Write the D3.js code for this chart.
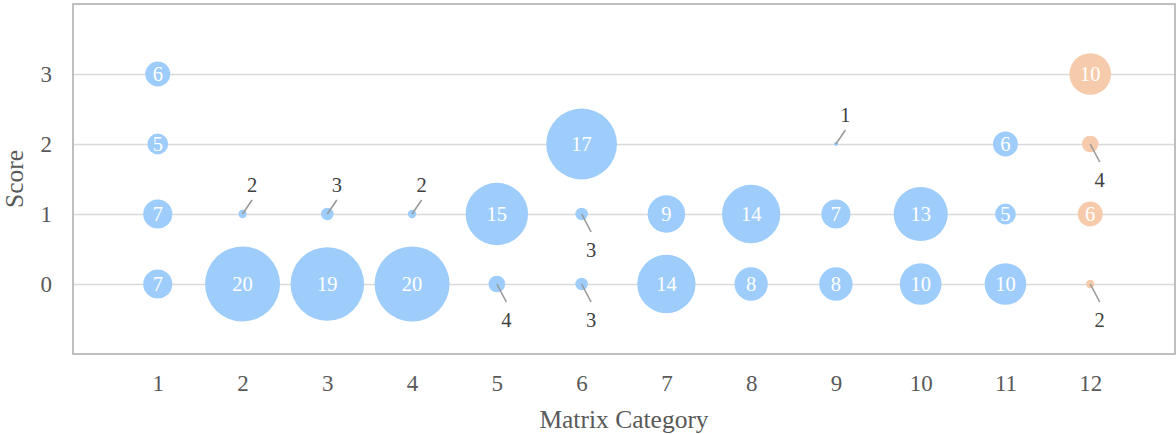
<!DOCTYPE html>
<html>
<head>
<meta charset="utf-8">
<script src="https://cdn.jsdelivr.net/npm/d3@7/dist/d3.min.js"></script>
<style>
  html, body { margin: 0; padding: 0; background: #fff; }
  svg { display: block; }
  text { font-family: "Liberation Serif", "Times New Roman", serif; }
</style>
</head>
<body>
<svg id="chart" width="1176" height="434"></svg>
<script>
// Matrix categories along the x axis and score levels on the y axis
const categories = [1, 2, 3, 4, 5, 6, 7, 8, 9, 10, 11, 12];
const scoreTicks = [0, 1, 2, 3];

// Each point: [category, score, count]
const seriesMain = [
  [1, 3, 6], [1, 2, 5], [1, 1, 7], [1, 0, 7],
  [2, 1, 2], [2, 0, 20],
  [3, 1, 3], [3, 0, 19],
  [4, 1, 2], [4, 0, 20],
  [5, 1, 15], [5, 0, 4],
  [6, 2, 17], [6, 1, 3], [6, 0, 3],
  [7, 1, 9], [7, 0, 14],
  [8, 1, 14], [8, 0, 8],
  [9, 2, 1], [9, 1, 7], [9, 0, 8],
  [10, 1, 13], [10, 0, 10],
  [11, 2, 6], [11, 1, 5], [11, 0, 10]
];
const seriesHighlight = [
  [12, 3, 10], [12, 2, 4], [12, 1, 6], [12, 0, 2]
];

const svg = d3.select("#chart");
const W = 1176, H = 434;
const plot = { left: 73, right: 1175, top: 4, bottom: 354 };

const x = d3.scaleLinear().domain([0, 13]).range([plot.left, plot.right]);
const y = d3.scaleLinear().domain([-1, 4]).range([plot.bottom, plot.top]);
const r = d3.scaleLinear().domain([0, 17, 20]).range([0, 35.4, 37.5]);

const font = '"Liberation Serif", "Times New Roman", serif';

// Horizontal gridlines
svg.append("g")
  .attr("transform", `translate(${plot.left},0)`)
  .call(d3.axisLeft(y).tickValues(scoreTicks).tickSize(-(plot.right - plot.left)).tickFormat(""))
  .call(g => g.select(".domain").remove())
  .call(g => g.selectAll("line").attr("stroke", "#d9d9d9").attr("stroke-width", 1.6));

// Plot frame
svg.append("rect")
  .attr("x", plot.left).attr("y", plot.top)
  .attr("width", plot.right - plot.left).attr("height", plot.bottom - plot.top)
  .attr("fill", "none").attr("stroke", "#bfbfbf").attr("stroke-width", 2);

// Y axis labels
svg.append("g")
  .attr("transform", `translate(${plot.left},0)`)
  .call(d3.axisLeft(y).tickValues(scoreTicks).tickSize(0).tickPadding(21).tickFormat(d3.format("d")))
  .call(g => g.select(".domain").remove())
  .call(g => g.selectAll("text")
    .attr("font-family", font).attr("font-size", 23).attr("fill", "#595959").attr("dy", "0.34em"));

// X axis labels
svg.append("g")
  .attr("transform", `translate(0,${plot.bottom})`)
  .call(d3.axisBottom(x).tickValues(categories).tickSize(0).tickPadding(21).tickFormat(d3.format("d")))
  .call(g => g.select(".domain").remove())
  .call(g => g.selectAll("text")
    .attr("font-family", font).attr("font-size", 23).attr("fill", "#595959").attr("dy", "0.71em"));

// Axis titles
svg.append("text")
  .attr("x", (plot.left + plot.right) / 2).attr("y", 428)
  .attr("text-anchor", "middle")
  .attr("font-size", 25.5).attr("fill", "#595959")
  .text("Matrix Category");

svg.append("text")
  .attr("transform", `translate(23,${(plot.top + plot.bottom) / 2}) rotate(-90)`)
  .attr("text-anchor", "middle")
  .attr("font-size", 25.5).attr("fill", "#595959")
  .text("Score");

// Small bubbles get an outside label on a short leader line; it points
// downward when another bubble sits directly above in the same column.
function drawSeries(data, color, allPoints) {
  const occupied = new Set(allPoints.map(d => d[0] + ":" + d[1]));
  const g = svg.append("g");
  const nodes = g.selectAll("g.pt").data(data).join("g").attr("class", "pt");

  nodes.append("circle")
    .attr("cx", d => x(d[0])).attr("cy", d => y(d[1]))
    .attr("r", d => r(d[2]))
    .attr("fill", color);

  const inside = nodes.filter(d => d[2] >= 5);
  inside.append("text")
    .attr("x", d => x(d[0])).attr("y", d => y(d[1]))
    .attr("dy", "0.35em")
    .attr("text-anchor", "middle")
    .attr("font-size", 20.5).attr("fill", "#ffffff")
    .text(d => d[2]);

  const outside = nodes.filter(d => d[2] < 5);
  const down = d => occupied.has(d[0] + ":" + (d[1] + 1));
  const endX = d => x(d[0]) + 9.5;
  const endY = d => y(d[1]) + (down(d) ? 18 : -14);

  outside.append("line")
    .attr("x1", d => x(d[0])).attr("y1", d => y(d[1]))
    .attr("x2", endX).attr("y2", endY)
    .attr("stroke", "#999999").attr("stroke-width", 1.6);

  outside.append("text")
    .attr("x", endX)
    .attr("y", d => endY(d) + (down(d) ? 25 : -8))
    .attr("text-anchor", "middle")
    .attr("font-size", 20.5).attr("fill", "#404040")
    .text(d => d[2]);
}

const allPoints = seriesMain.concat(seriesHighlight);
drawSeries(seriesMain, "#9ecdfc", allPoints);
drawSeries(seriesHighlight, "#f6cbab", allPoints);
</script>
</body>
</html>
